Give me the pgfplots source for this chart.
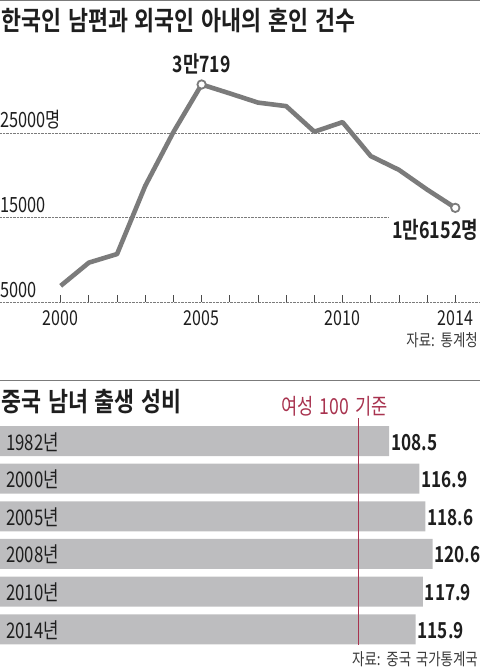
\documentclass[border=0pt]{standalone}
\usepackage{fontspec}
\setmainfont{Noto Sans CJK KR}[BoldFont={Noto Sans CJK KR Bold},FakeStretch=0.78]
\newfontfamily\titlefont{Noto Sans CJK KR}[BoldFont={Noto Sans CJK KR Bold},FakeStretch=0.82,WordSpace=1.4]
\newfontfamily\widefont{Noto Sans CJK KR}[BoldFont={Noto Sans CJK KR Bold},FakeStretch=0.8,WordSpace=1.6]
\usepackage{pgfplots}
\pgfplotsset{compat=1.18}
\definecolor{linegray}{HTML}{7B7B7B}
\definecolor{bargray}{HTML}{BDBDBF}
\definecolor{crim}{HTML}{A8334F}
\definecolor{txt}{HTML}{1E1E1E}
\definecolor{src}{HTML}{3A3A3A}
\newcommand\fs[1]{\fontsize{#1}{#1}\selectfont}
\begin{document}
\begin{tikzpicture}
\path[use as bounding box] (0pt,0pt) rectangle (480pt,-668pt);
\draw[linegray, line width=1pt] (0pt,-0.5pt) -- (480pt,-0.5pt);
\node[anchor=base west, inner sep=0pt, text=txt] at (1pt,-31pt) {\titlefont\fs{26.5}\bfseries 한국인 남편과 외국인 아내의 혼인 건수};
\begin{axis}[
  at={(0pt,-302.3pt)}, anchor=south west,
  scale only axis, width=480pt, height=232.3pt,
  xmin=1997.847, xmax=2014.876, ymin=5000, ymax=32430,
  clip=false,
  axis line style={draw=none},
  scaled y ticks=false, scaled x ticks=false,
  /pgf/number format/assume math mode=true,
  ytick={5000,15000,25000},
  yticklabels={5000,15000,25000명},
  ymajorgrids, major grid style={densely dotted, linegray, line width=0.8pt},
  ytick style={draw=none},
  yticklabel style={anchor=base west, inner sep=0pt, yshift=5pt, font=\fs{21}, text=txt},
  xtick={2000,...,2014},
  xticklabels={2000,,,,,2005,,,,,2010,,,,2014},
  xtick pos=bottom, ytick pos=left,
  tick align=inside, major tick length=7pt,
  xtick style={draw=txt!80, line width=0.8pt},
  xticklabel style={anchor=base, inner sep=0pt, yshift=-22.7pt, font=\fs{20.5}, text=txt},
]
\addplot[linegray, line width=4.6pt, line join=round, mark=none] coordinates {
(2000,6945) (2001,9684) (2002,10698) (2003,18751) (2004,25105) (2005,30719)
(2006,29665) (2007,28580) (2008,28163) (2009,25142) (2010,26274) (2011,22265)
(2012,20637) (2013,18307) (2014,16152)};
\addplot[only marks, mark=*, mark size=4.2pt, mark options={fill=white, draw=linegray, line width=1.8pt}] coordinates {(2005,30719) (2014,16152)};
\node[anchor=base, inner sep=0pt, text=txt] at (axis cs:2005,30719) [yshift=12.3pt] {\fs{22.5}\bfseries 3만719};
\node[anchor=base east, inner xsep=3pt, inner ysep=2pt, fill=white, text=txt] at (axis cs:2014,16152) [xshift=26pt, yshift=-30.6pt] {\fs{23}\bfseries 1만6152명};
\end{axis}
\node[anchor=base east, inner sep=0pt, text=src] at (478pt,-346pt) {\widefont\fs{16.8}자료: 통계청};
\draw[linegray, line width=1pt] (0pt,-380pt) -- (480pt,-380pt);
\node[anchor=base west, inner sep=0pt, text=txt] at (1pt,-411pt) {\titlefont\fs{26.5}\bfseries 중국 남녀 출생 성비};
\node[anchor=base west, inner sep=0pt, text=crim] at (281pt,-414pt) {\widefont\fs{22}여성 100 기준};
\begin{axis}[
  at={(0pt,-648.1pt)}, anchor=south west,
  scale only axis, width=480pt, height=225.9pt,
  xmin=0, xmax=133.82, ymin=-0.5, ymax=5.5, y dir=reverse,
  clip=false, axis on top,
  axis line style={draw=none},
  xtick=\empty,
  ytick={0,...,5},
  yticklabels={1982년,2000년,2005년,2008년,2010년,2014년},
  ytick style={draw=none},
  yticklabel style={anchor=base west, inner sep=0pt, xshift=6pt, yshift=-9pt, font=\fs{21.5}, text=txt},
  /pgf/number format/assume math mode=true,
]
\addplot[xbar, bar width=30pt, fill=bargray, draw=none,
  nodes near coords={\pgfmathprintnumber[fixed,fixed zerofill,precision=1]{\pgfplotspointmeta}},
  nodes near coords style={anchor=base west, inner sep=0pt, xshift=1.8pt, yshift=-9pt, font=\fs{22}\bfseries, text=txt}]
  coordinates {(108.5,0) (116.9,1) (118.6,2) (120.6,3) (117.9,4) (115.9,5)};
\addplot[crim, line width=1.2pt, mark=none] coordinates {(100,-0.61) (100,5.42)};
\end{axis}
\node[anchor=base east, inner sep=0pt, text=src] at (478pt,-665pt) {\widefont\fs{16.8}자료: 중국 국가통계국};
\end{tikzpicture}
\end{document}
